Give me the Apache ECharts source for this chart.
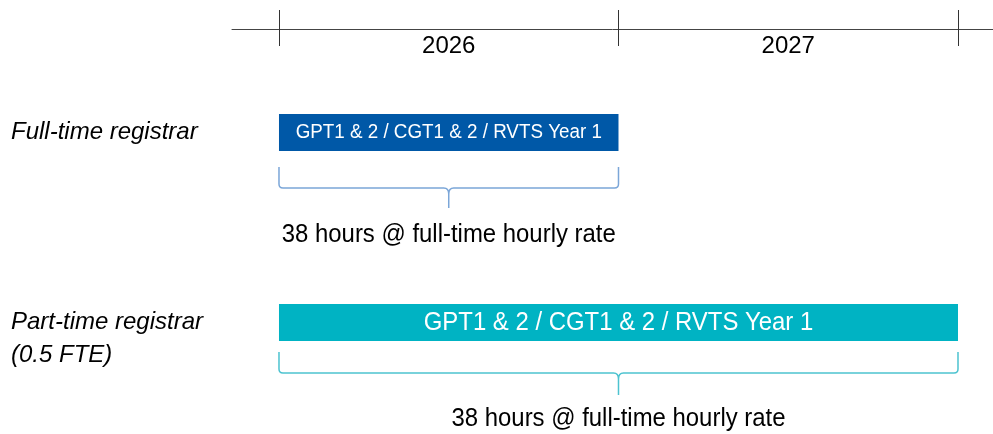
<!DOCTYPE html>
<html>
<head>
<meta charset="utf-8">
<script src="https://cdn.jsdelivr.net/npm/echarts@6/dist/echarts.min.js"></script>
<style>html,body{margin:0;padding:0;background:#fff}#main{width:993px;height:434px}</style>
</head>
<body>
<div id="main"></div>
<script>
// ---- data ----
const years = ['2026', '2027'];
const yearEnd = 2028;
const rowLabels = ['Full-time registrar', 'Part-time registrar\n(0.5 FTE)'];
const barStarts = [2026, 2026];
const barEnds = [2027, 2028];
const barTexts = ['GPT1 & 2 / CGT1 & 2 / RVTS Year 1', 'GPT1 & 2 / CGT1 & 2 / RVTS Year 1'];
const noteTexts = ['38 hours @ full-time hourly rate', '38 hours @ full-time hourly rate'];

// ---- styles / layout ----
const FONT = "'Liberation Sans', Arial, sans-serif";
const CONDENSE = 0.92;
const barColors = ['#0058A7', '#00B3C3'];
const braceColors = ['#7BA6D8', '#4DC3D0'];
const rowLayout = [
  { braceTop: 34.5, braceH: 55.5, tip: 75.5, note: 102.5 },
  { braceTop: 29.5, braceH: 50.5, tip: 72.5, note: 96 }
];
const X_MIN = 2025.8616, X_MAX = 2028.1031;

const measureCtx = document.createElement('canvas').getContext('2d');
function textWidth(t, fs) { measureCtx.font = fs + 'px ' + FONT; return measureCtx.measureText(t).width; }

function renderItem(params, api) {
  const i = api.value(2);
  const p0 = api.coord([api.value(0), i]);
  const p1 = api.coord([api.value(1), i]);
  const x0 = p0[0], x1 = p1[0], cy = p0[1];
  const barH = 37;
  const xm = (x0 + x1) / 2;
  const L = rowLayout[i];
  let fs = 26;
  const w = textWidth(barTexts[i], fs) * CONDENSE;
  const avail = (x1 - x0) - 33;
  if (w > avail) fs = fs * avail / w;
  const yTop = cy + L.braceTop, yH = cy + L.braceH, yTip = cy + L.tip;
  const r = 4;
  const d = `M${x0},${yTop} L${x0},${yH - r} Q${x0},${yH} ${x0 + r},${yH} L${xm - 5},${yH} Q${xm},${yH} ${xm},${yH + 6} L${xm},${yTip} M${xm},${yH + 6} Q${xm},${yH} ${xm + 5},${yH} L${x1 - r},${yH} Q${x1},${yH} ${x1},${yH - r} L${x1},${yTop}`;
  const cs = params.coordSys;
  return {
    type: 'group',
    children: [
      { type: 'rect', shape: { x: x0, y: cy - barH / 2, width: x1 - x0, height: barH }, style: { fill: barColors[i] } },
      { type: 'text', x: xm, y: cy, scaleX: CONDENSE, style: { text: barTexts[i], fill: '#fff', fontSize: fs, fontFamily: FONT, align: 'center', verticalAlign: 'middle' } },
      { type: 'path', shape: { pathData: d }, style: { stroke: braceColors[i], fill: null, lineWidth: 1.5 } },
      { type: 'text', x: xm, y: cy + L.note, scaleX: CONDENSE, style: { text: noteTexts[i], fill: '#000', fontSize: 26, fontFamily: FONT, align: 'center', verticalAlign: 'middle' } },
      { type: 'text', x: cs.x - 221, y: cy - 16.5, style: { text: rowLabels[i], fill: '#000', fontSize: 24, fontStyle: 'italic', fontFamily: FONT, lineHeight: 33, align: 'left', verticalAlign: 'top' } }
    ]
  };
}

const tickVals = years.map(Number).concat([yearEnd]);
const labelVals = years.map(y => Number(y) + 0.5);

const chart = echarts.init(document.getElementById('main'));
chart.setOption({
  animation: false,
  grid: { left: 232, right: 0, top: 37.5, bottom: 16.5 },
  xAxis: [
    {
      type: 'value', position: 'top', min: X_MIN, max: X_MAX, offset: 8.5,
      axisLine: { show: true, lineStyle: { color: '#444', width: 1 } },
      axisTick: { show: true, inside: false, length: 19, customValues: tickVals, lineStyle: { color: '#333', width: 1 } },
      axisLabel: {
        show: true, inside: true, margin: 17, customValues: labelVals,
        formatter: v => years[Math.floor(v) - Number(years[0])] || '',
        fontSize: 24, color: '#000', fontFamily: FONT, verticalAlign: 'middle'
      },
      splitLine: { show: false }
    },
    {
      type: 'value', position: 'top', min: X_MIN, max: X_MAX, offset: 8.5,
      axisLine: { show: false },
      axisTick: { show: true, inside: true, length: 17, customValues: tickVals, lineStyle: { color: '#333', width: 1 } },
      axisLabel: { show: false },
      splitLine: { show: false }
    }
  ],
  yAxis: {
    type: 'category', inverse: true, data: rowLabels, show: false
  },
  series: [{
    type: 'custom',
    xAxisIndex: 0,
    renderItem: renderItem,
    encode: { x: [0, 1], y: 2 },
    data: barStarts.map((s, i) => [s, barEnds[i], i]),
    clip: false
  }]
});
</script>
</body>
</html>
